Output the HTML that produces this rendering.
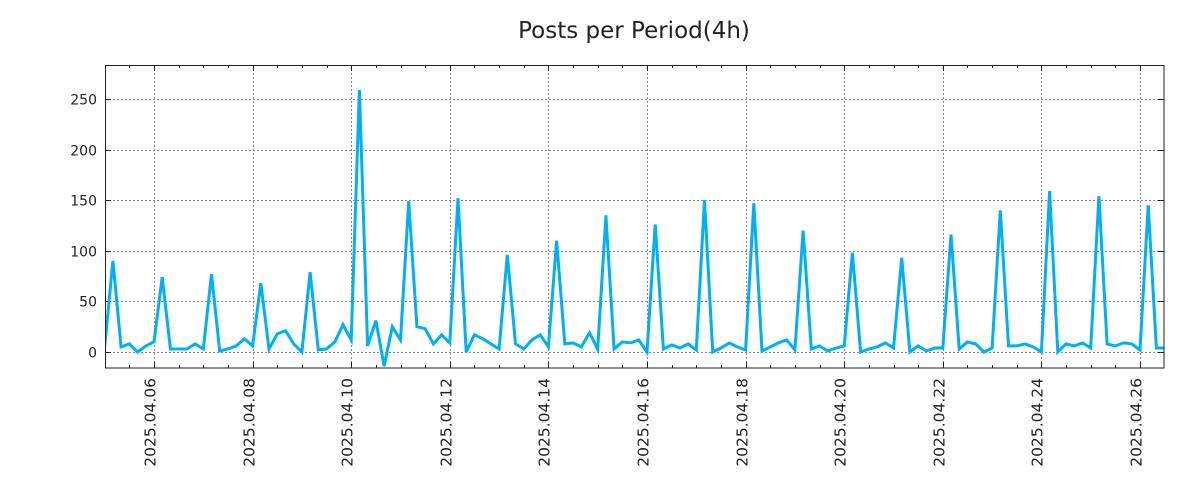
<!DOCTYPE html>
<html><head><meta charset="utf-8"><style>
body{margin:0;background:#fff;}
svg{display:block;font-family:"DejaVu Sans","Liberation Sans",sans-serif;}
</style></head><body>
<svg id="chart" width="1200" height="500" viewBox="0 0 1200 500">
<rect width="1200" height="500" fill="#fff"/>
<text x="634" y="38" font-size="23" text-anchor="middle" fill="#222">Posts per Period(4h)</text>
<g id="grid"></g>
<g id="axes"></g>
<clipPath id="clip"><rect x="105" y="65" width="1059" height="303"/></clipPath>
<g id="series" clip-path="url(#clip)"></g>
<rect x="105.5" y="65.5" width="1058.5" height="302.5" fill="none" stroke="#222" stroke-width="1"/>
</svg>
<script>
const startDay = 5; // 2025.04.05 00:00, 6 periods per day
const yTicks = [0, 50, 100, 150, 200, 250];
const xTickLabels = ["2025.04.06","2025.04.08","2025.04.10","2025.04.12","2025.04.14","2025.04.16","2025.04.18","2025.04.20","2025.04.22","2025.04.24","2025.04.26"];
const xTickDays = [6,8,10,12,14,16,18,20,22,24,26];
const posts = [
5,90,5,8,0,6,
10,74,3,3,3,8,
3,77,1,3,6,13,
6,68,3,18,21,8,
0,79,2,3,10,27,
12,259,6,31,-14,25,
12,149,25,23,8,17,
9,152,0,17,13,8,
3,96,8,3,12,17,
5,110,8,9,5,19,
3,135,3,10,9,12,
0,126,3,7,4,8,
2,150,0,4,9,5,
2,147,1,5,9,12,
2,120,3,6,1,4,
6,98,0,3,5,9,
4,93,0,6,1,4,
4,116,3,10,8,0,
4,140,6,6,8,5,
0,159,0,8,6,9,
4,154,8,6,9,8,
2,145,4,4
];
const NS="http://www.w3.org/2000/svg";
const X0=105, X1=1164, Y0=368, Y1=65;
const dayPx=49.3;
function xDay(d){return 154+(d-6)*dayPx;}
function xIdx(i){return xDay(startDay+i/6);}
function yVal(v){return 352-v*(253/250);}
function mk(tag,attrs,parent){const e=document.createElementNS(NS,tag);for(const k in attrs)e.setAttribute(k,attrs[k]);parent.appendChild(e);return e;}
const grid=document.getElementById('grid'), axes=document.getElementById('axes'), series=document.getElementById('series');
yTicks.forEach(v=>{
  const y=Math.round(yVal(v))+0.5;
  const g=mk('line',{x1:X0,x2:X1,y1:y,y2:y,stroke:'#888','stroke-dasharray':'2,2','stroke-width':1},grid);
  
  
  mk('line',{x1:X0,x2:X0+6,y1:y,y2:y,stroke:'#222'},axes);
  mk('line',{x1:X1-6,x2:X1,y1:y,y2:y,stroke:'#222'},axes);
  const t=mk('text',{x:97,y:y+5,'font-size':14,'text-anchor':'end',fill:'#222'},axes);
  t.textContent=v;
  
  
});
for(let d=startDay;d<=27;d+=0.5){
  const x=Math.round(xDay(d))+0.5;
  if(x<X0||x>X1)continue;
  const major=xTickDays.includes(d);
  const len=major?6:3;
  mk('line',{x1:x,x2:x,y1:Y0,y2:Y0-len,stroke:'#222'},axes);
  mk('line',{x1:x,x2:x,y1:Y1,y2:Y1+len,stroke:'#222'},axes);
}
xTickDays.forEach((d,k)=>{
  const x=Math.round(xDay(d))+0.5;
  const g=mk('line',{x1:x,x2:x,y1:Y1,y2:Y0,stroke:'#888','stroke-dasharray':'2,2','stroke-width':1},grid);
  
  
  const t=mk('text',{x:0,y:0,'font-size':15.5,'text-anchor':'end',fill:'#222',transform:`translate(${x+1},378) rotate(-90)`},axes);
  t.textContent=xTickLabels[k];
  
  
});
const pts=posts.map((v,i)=>xIdx(i).toFixed(1)+','+yVal(v).toFixed(1)).join(' ');
const line=mk('polyline',{points:pts,fill:'none',stroke:'#00b0f5','stroke-width':3,'stroke-linejoin':'miter'},series);


</script>
</body></html>
